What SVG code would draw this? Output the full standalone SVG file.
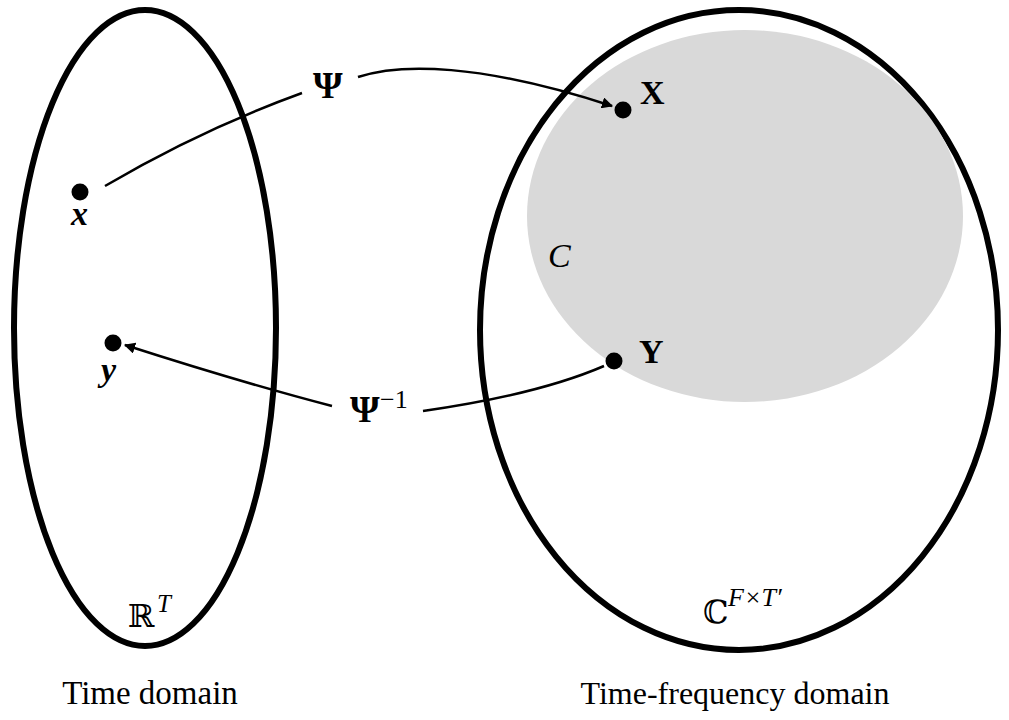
<svg xmlns="http://www.w3.org/2000/svg" width="1009" height="720" viewBox="0 0 1009 720">
<style>
.set{fill:none;stroke:#000;stroke-width:6}
.dot{fill:#000}
.con{fill:none;stroke:#000;stroke-width:2.5}
.t{font-family:"Liberation Serif","DejaVu Serif",serif;fill:#000}
.b{font-weight:bold}
.i{font-style:italic}
.ds{font-family:"DejaVu Serif","DejaVu Sans",serif;fill:#000}
</style>
<defs>
<marker id="ah" viewBox="0 0 10 10" refX="9" refY="5" markerWidth="4.5" markerHeight="4.5" orient="auto" markerUnits="strokeWidth">
<path d="M0,0 L10,5 L0,10 z" fill="#000"/>
</marker>
</defs>
<rect width="1009" height="720" fill="#fff"/>
<g id="time-set">
<ellipse class="set" cx="145" cy="328" rx="131" ry="318"/>
<text class="ds" x="128" y="627" font-size="32">ℝ</text>
<text class="t i" x="157" y="612" font-size="25">T</text>
</g>
<g id="tf-set">
<ellipse class="set" cx="739" cy="330" rx="259" ry="320"/>
<text class="ds" x="703" y="623" font-size="32">ℂ</text>
<text class="t i" x="728" y="606" font-size="26">F×T′</text>
</g>
<g id="C-set">
<ellipse cx="745" cy="216" rx="218" ry="186" fill="#d9d9d9"/>
<text class="t i" x="548" y="267" font-size="34">C</text>
</g>
<g id="node-x">
<circle class="dot" cx="80" cy="192" r="8.5"/>
<text class="t i b" x="71" y="225" font-size="34">x</text>
</g>
<g id="node-y">
<circle class="dot" cx="113" cy="343" r="8.5"/>
<text class="t i b" x="101" y="381" font-size="34">y</text>
</g>
<g id="node-X">
<circle class="dot" cx="623" cy="110" r="8.5"/>
<text class="t b" x="640" y="104" font-size="34">X</text>
</g>
<g id="node-Y">
<circle class="dot" cx="614" cy="361" r="8.5"/>
<text class="t b" x="639" y="363" font-size="34">Y</text>
</g>
<g id="connectors">
<path class="con" d="M105,186 Q200,130 302,93"/>
<path class="con" d="M358,77 C400,63 480,63 612,106" marker-end="url(#ah)"/>
<text class="t b" x="313" y="98" font-size="38">Ψ</text>
<path class="con" d="M604,366 C560,385 500,400 423,411"/>
<path class="con" d="M332,406 Q240,382 125,345" marker-end="url(#ah)"/>
<text class="t b" x="350" y="422" font-size="38">Ψ</text>
<text class="t" x="380" y="408" font-size="26">−1</text>
</g>
<text class="t" x="150" y="704" font-size="33" text-anchor="middle">Time domain</text>
<text class="t" x="735" y="704" font-size="32" text-anchor="middle">Time-frequency domain</text>
</svg>
